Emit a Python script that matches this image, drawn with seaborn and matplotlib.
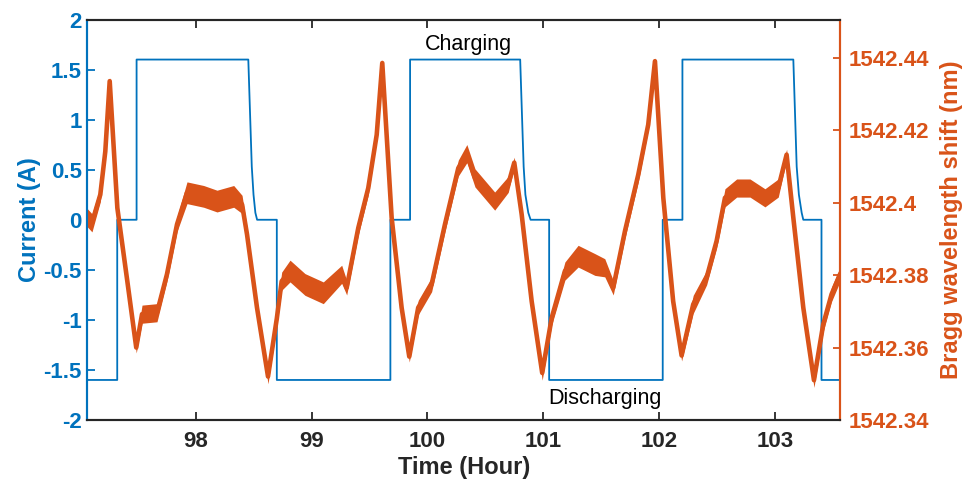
import numpy as np
import pandas as pd
import matplotlib
matplotlib.use("Agg")
import matplotlib.pyplot as plt
import seaborn as sns

# ---------------- data ----------------
cur_time = [97.065, 97.323, 97.323, 97.49, 97.49, 98.454, 98.484, 98.499, 98.515, 98.53,
            98.70, 98.70, 99.68, 99.68, 99.85, 99.85, 100.80, 100.83, 100.845, 100.87, 100.89,
            101.05, 101.05, 102.03, 102.03, 102.20, 102.20, 103.157, 103.186, 103.205, 103.229, 103.243,
            103.40, 103.40, 103.56]
cur_amp = [-1.6, -1.6, 0.0, 0.0, 1.6, 1.6, 0.53, 0.25, 0.07, 0.0,
           0.0, -1.6, -1.6, 0.0, 0.0, 1.6, 1.6, 0.53, 0.25, 0.07, 0.0,
           0.0, -1.6, -1.6, 0.0, 0.0, 1.6, 1.6, 0.53, 0.25, 0.07, 0.0,
           0.0, -1.6, -1.6]

bragg_time = [97.065, 97.105, 97.177, 97.22, 97.258, 97.324, 97.41, 97.487, 97.537, 97.666,
              97.752, 97.839, 97.925, 98.069, 98.184, 98.328, 98.40, 98.443, 98.529, 98.624,
              98.70, 98.742, 98.814, 98.943, 99.101, 99.26, 99.303, 99.403, 99.489, 99.562,
              99.61, 99.691, 99.777, 99.843, 99.92, 100.036, 100.151, 100.266, 100.34, 100.41,
              100.58, 100.697, 100.749, 100.813, 100.899, 100.99, 101.072, 101.186, 101.30, 101.445,
              101.53, 101.603, 101.704, 101.819, 101.905, 101.963, 102.035, 102.12, 102.193, 102.293,
              102.409, 102.495, 102.567, 102.668, 102.783, 102.912, 103.027, 103.099, 103.157, 103.243,
              103.335, 103.415, 103.487, 103.56]
bragg_nm = [1542.3958, 1542.3944, 1542.4022, 1542.4141, 1542.4335, 1542.3985, 1542.3783, 1542.3600, 1542.3692, 1542.3696,
            1542.3802, 1542.3940, 1542.4027, 1542.4017, 1542.4004, 1542.4017, 1542.3995, 1542.3912, 1542.3710, 1542.3520,
            1542.3680, 1542.3783, 1542.3811, 1542.3774, 1542.3751, 1542.3802, 1542.3765, 1542.3930, 1542.4040, 1542.4187,
            1542.4385, 1542.3958, 1542.3710, 1542.3575, 1542.3710, 1542.3774, 1542.3940, 1542.4095, 1542.4135, 1542.4068,
            1542.4004, 1542.4050, 1542.4110, 1542.3967, 1542.3728, 1542.3530, 1542.3682, 1542.3811, 1542.3852, 1542.3829,
            1542.3820, 1542.3765, 1542.3921, 1542.4077, 1542.4215, 1542.4390, 1542.4013, 1542.3728, 1542.3578, 1542.3719,
            1542.3793, 1542.3894, 1542.4013, 1542.4040, 1542.4040, 1542.4013, 1542.4040, 1542.4132, 1542.3958, 1542.3710,
            1542.3510, 1542.3664, 1542.3747, 1542.3802]
bragg_noise = [0.0025, 0.0025, 0.002, 0.0015, 0.001, 0.0015, 0.0015, 0.0015, 0.0025, 0.0025,
               0.002, 0.002, 0.003, 0.003, 0.003, 0.003, 0.0025, 0.002, 0.0015, 0.002,
               0.002, 0.0025, 0.003, 0.003, 0.003, 0.0025, 0.002, 0.002, 0.002, 0.0015,
               0.001, 0.0015, 0.0015, 0.0015, 0.002, 0.002, 0.002, 0.0022, 0.0025, 0.0025,
               0.0025, 0.0022, 0.0015, 0.0015, 0.0015, 0.002, 0.002, 0.0025, 0.003, 0.003,
               0.0025, 0.002, 0.002, 0.002, 0.0015, 0.001, 0.0015, 0.0015, 0.0015, 0.0025,
               0.002, 0.002, 0.0025, 0.0025, 0.0025, 0.0025, 0.0025, 0.0015, 0.0015, 0.0015,
               0.002, 0.002, 0.002, 0.002]

x_ticks = [98, 99, 100, 101, 102, 103]
cur_ticks = [-2, -1.5, -1, -0.5, 0, 0.5, 1, 1.5, 2]
cur_ticklabels = ["-2", "-1.5", "-1", "-0.5", "0", "0.5", "1", "1.5", "2"]
bragg_ticks = [1542.34, 1542.36, 1542.38, 1542.40, 1542.42, 1542.44]
bragg_ticklabels = ["1542.34", "1542.36", "1542.38", "1542.4", "1542.42", "1542.44"]

# ---------------- style ----------------
sns.set_style("white")
plt.rcParams["font.family"] = ["Liberation Sans", "DejaVu Sans"]

BLUE = "#0072BD"
ORANGE = "#D95319"
DARK = "#262626"

fig = plt.figure(figsize=(9.65, 4.84), dpi=100)
ax = fig.add_axes([0.0905, 0.1322, 0.7800, 0.8275])
ax2 = ax.twinx()

cur_df = pd.DataFrame({"t": cur_time, "I": cur_amp})
sns.lineplot(data=cur_df, x="t", y="I", ax=ax, sort=False, estimator=None,
             color=BLUE, linewidth=1.3)

bragg_df = pd.DataFrame({"t": bragg_time, "w": bragg_nm})
bt = np.array(bragg_time)
bw = np.array(bragg_nm)
bn = np.array(bragg_noise)
ax2.fill_between(bt, bw - bn, bw + bn, color=ORANGE, linewidth=0)
sns.lineplot(data=bragg_df, x="t", y="w", ax=ax2, sort=False, estimator=None,
             color=ORANGE, linewidth=3.3, solid_joinstyle="round", solid_capstyle="round")

ax.set_xlim(97.065, 103.56)
ax.set_ylim(-2, 2)
ax2.set_ylim(1542.34, 1542.4505)

ax.set_xticks(x_ticks)
ax.set_xticklabels([str(v) for v in x_ticks])
ax.set_yticks(cur_ticks)
ax.set_yticklabels(cur_ticklabels)
ax2.set_yticks(bragg_ticks)
ax2.set_yticklabels(bragg_ticklabels)

ax.tick_params(axis="x", direction="in", length=6, width=1.3, color=DARK,
               labelcolor=DARK, labelsize=16, pad=8, top=True, bottom=True)
ax.tick_params(axis="y", direction="in", length=6, width=1.3, color=BLUE,
               labelcolor=BLUE, labelsize=16, pad=4, left=True, right=False)
ax2.tick_params(axis="y", direction="in", length=5, width=1.3, color=ORANGE,
                labelcolor=ORANGE, labelsize=16, pad=6)
for lab in ax.get_xticklabels() + ax.get_yticklabels() + ax2.get_yticklabels():
    lab.set_fontweight("bold")

ax.set_xlabel("Time (Hour)", fontsize=17, fontweight="bold", color=DARK, labelpad=3)
ax.set_ylabel("Current (A)", fontsize=17, fontweight="bold", color=BLUE, labelpad=2)
ax2.set_ylabel("Bragg wavelength shift (nm)", fontsize=17, fontweight="bold", color=ORANGE, labelpad=8)

for a in (ax, ax2):
    for s in a.spines.values():
        s.set_linewidth(1.5)
    a.spines["top"].set_color(DARK)
    a.spines["bottom"].set_color(DARK)
    a.spines["left"].set_color(BLUE)
    a.spines["right"].set_color(ORANGE)

ax.text(100.355, 1.755, "Charging", fontsize=15.5, color="black", ha="center", va="center")
ax.text(101.53, -1.79, "Discharging", fontsize=15.5, color="black", ha="center", va="center")

fig.savefig("out.png", dpi=100)
